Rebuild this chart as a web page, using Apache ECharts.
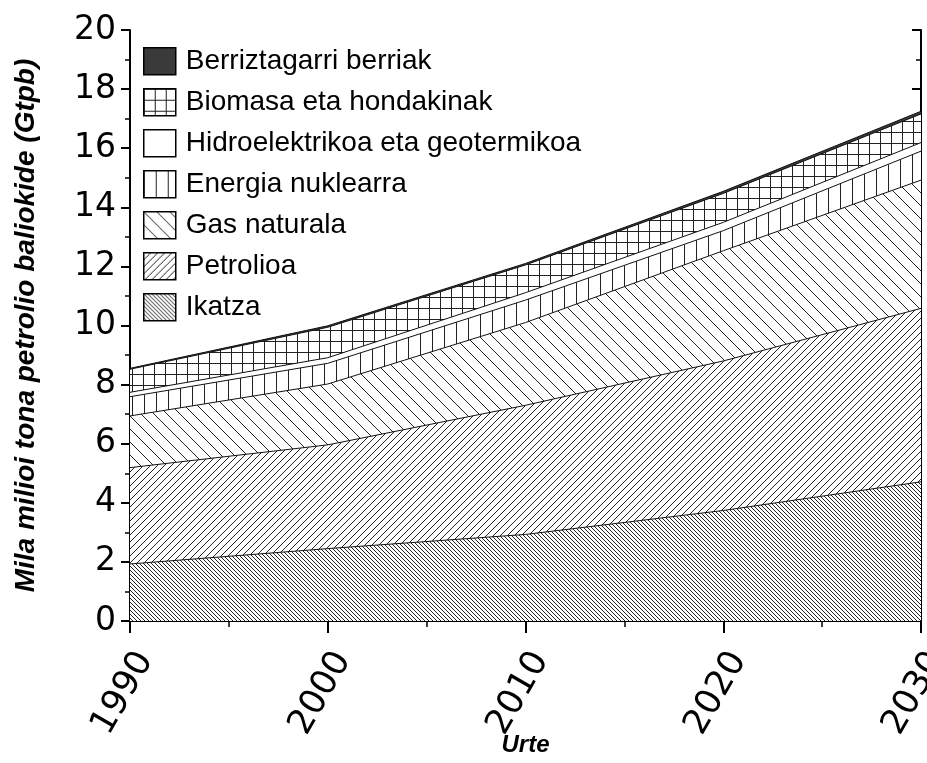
<!DOCTYPE html>
<html>
<head>
  <meta charset="UTF-8">
  <title>Energia kontsumoa</title>
  <script src="https://cdn.jsdelivr.net/npm/echarts@6/dist/echarts.min.js"></script>
</head>
<style type="text/css">
    html,body {padding: 0; margin: 0; background: #fff;}
    #chart {width: 927px; height: 763px;}
</style>
<body>
<div id="chart"></div>
<script type="text/javascript">

    // urteak eta iturri bakoitzaren ekarpena (Gtpb), behetik gora
    var years = ['1990', '2000', '2010', '2020', '2030'];
    var ikatza = [1.93, 2.45, 2.93, 3.74, 4.71];
    var petrolioa = [3.26, 3.51, 4.37, 5.06, 5.87];
    var gasa = [1.75, 2.06, 2.80, 3.73, 4.34];
    var nuklearra = [0.65, 0.70, 0.76, 0.68, 0.98];
    var hidro = [0.15, 0.19, 0.25, 0.28, 0.29];
    var biomasa = [0.78, 1.03, 0.94, 0.98, 0.97];
    var berriak = [0.03, 0.05, 0.05, 0.07, 0.09];

    var names = ['Ikatza', 'Petrolioa', 'Gas naturala', 'Energia nuklearra',
                 'Hidroelektrikoa eta geotermikoa', 'Biomasa eta hondakinak', 'Berriztagarri berriak'];
    var values = [ikatza, petrolioa, gasa, nuklearra, hidro, biomasa, berriak];

    function pattern(size, draw) {
        var c = document.createElement('canvas');
        c.width = size; c.height = size;
        var ctx = c.getContext('2d');
        ctx.fillStyle = '#fff';
        ctx.fillRect(0, 0, size, size);
        ctx.strokeStyle = '#222';
        ctx.lineWidth = 1;
        draw(ctx, size);
        return {image: c, repeat: 'repeat'};
    }
    function back(ctx, s) {
        ctx.beginPath();
        [-s, 0, s].forEach(function (o) { ctx.moveTo(o, 0); ctx.lineTo(o + s, s); });
        ctx.stroke();
    }
    function fwd(ctx, s) {
        ctx.beginPath();
        [-s, 0, s].forEach(function (o) { ctx.moveTo(o, s); ctx.lineTo(o + s, 0); });
        ctx.stroke();
    }
    function vert(ctx, s) {
        ctx.beginPath(); ctx.moveTo(0.5, 0); ctx.lineTo(0.5, s); ctx.stroke();
    }
    function grid(ctx, s) {
        ctx.beginPath(); ctx.moveTo(0.5, 0); ctx.lineTo(0.5, s);
        ctx.moveTo(0, 0.5); ctx.lineTo(s, 0.5); ctx.stroke();
    }

    var fills = [
        pattern(4, back),
        pattern(7, fwd),
        pattern(13, back),
        pattern(12, vert),
        '#ffffff',
        pattern(11, grid),
        '#3a3a3a'
    ];

    var series = names.map(function (n, i) {
        return {
            name: n,
            type: 'line',
            stack: 'total',
            xAxisIndex: 1,
            symbol: 'none',
            lineStyle: {color: '#111', width: 1},
            itemStyle: {color: '#111'},
            areaStyle: {color: fills[i], opacity: 1},
            data: values[i]
        };
    });

    var legendData = names.slice().reverse().map(function (n) {
        var i = names.indexOf(n);
        return {name: n, icon: 'rect',
                itemStyle: {color: fills[i], borderColor: '#000', borderWidth: 1.5}};
    });

    var font = 'Liberation Sans, Arial, sans-serif';
    var tickFont = 'DejaVu Sans, sans-serif';
    var myChart = echarts.init(document.getElementById('chart'));
    myChart.setOption({
        animation: false,
        textStyle: {fontFamily: font},
        grid: {left: 130, right: 6, top: 30, bottom: 142, outerBoundsMode: 'none'},
        legend: {
            orient: 'vertical', left: 143, top: 47, padding: 0,
            itemWidth: 32, itemHeight: 27, itemGap: 12.5,
            textStyle: {fontSize: 28, lineHeight: 27, color: '#000', fontFamily: font, padding: [0, 0, 0, 5]},
            data: legendData
        },
        xAxis: [{
            type: 'value', min: 1990, max: 2030, interval: 10,
            name: 'Urte', nameLocation: 'middle', nameGap: 112, nameMoveOverlap: false,
            nameTextStyle: {fontSize: 24, fontWeight: 'bold', fontStyle: 'italic', color: '#000', fontFamily: font},
            axisLine: {onZero: false, lineStyle: {color: '#000', width: 2}},
            axisTick: {length: 12, lineStyle: {width: 2}},
            minorTick: {show: true, splitNumber: 2, length: 6, lineStyle: {color: '#000', width: 1.5}},
            axisLabel: {rotate: 60, fontSize: 35, color: '#000', margin: 25, verticalAlign: 'top',
                        fontFamily: tickFont, formatter: function (v) { return String(v); }},
            splitLine: {show: false}
        }, {
            type: 'category', data: years, boundaryGap: false, show: false
        }],
        yAxis: [{
            type: 'value', min: 0, max: 20, interval: 2,
            name: 'Mila milioi tona petrolio baliokide (Gtpb)', nameLocation: 'middle', nameGap: 90,
            nameTextStyle: {fontSize: 28, fontWeight: 'bold', fontStyle: 'italic', color: '#000', fontFamily: font},
            axisLine: {show: true, lineStyle: {color: '#000', width: 2}},
            axisTick: {length: 9, lineStyle: {width: 2}},
            minorTick: {show: true, splitNumber: 2, length: 5, lineStyle: {color: '#000', width: 1.5}},
            axisLabel: {fontSize: 33, color: '#000', margin: 14, fontFamily: tickFont},
            splitLine: {show: false}
        }, {
            type: 'value', min: 0, max: 20, interval: 2, position: 'right',
            axisLine: {show: true, lineStyle: {color: '#000', width: 2}},
            axisTick: {inside: true, length: 9, lineStyle: {width: 2}},
            minorTick: {show: true, splitNumber: 2, length: 5, lineStyle: {color: '#000', width: 1.5}},
            axisLabel: {show: false},
            splitLine: {show: false}
        }],
        series: series
    });
</script>
</body>
</html>
